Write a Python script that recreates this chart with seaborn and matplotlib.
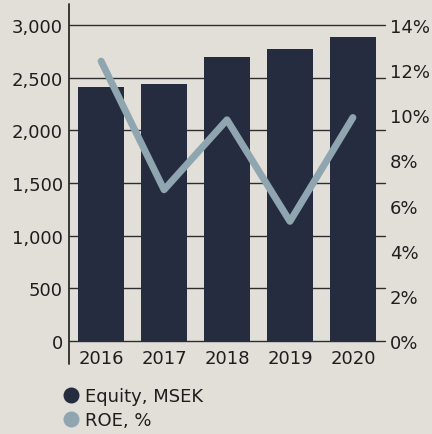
import numpy as np
import pandas as pd
import seaborn as sns
import matplotlib.pyplot as plt
from matplotlib.lines import Line2D

years = ["2016", "2017", "2018", "2019", "2020"]
equity = [2410, 2440, 2700, 2770, 2890]
roe = [12.4, 6.7, 9.8, 5.3, 9.9]
left_ticks = [0, 500, 1000, 1500, 2000, 2500, 3000]
right_ticks = [0, 2, 4, 6, 8, 10, 12, 14]

bg = "#e2dfd8"
bar_col = "#262c3f"
line_col = "#8fa6b1"
txt = "#1e1e1e"

sns.set_theme(style="white", rc={"figure.facecolor": bg, "axes.facecolor": bg})
plt.rcParams["font.family"] = ["DejaVu Sans"]

df = pd.DataFrame({"year": years, "equity": equity, "roe": roe, "pos": np.arange(len(years))})

fig = plt.figure(figsize=(4.32, 4.35), dpi=100)
ax = fig.add_axes([69 / 432, 1 - 342 / 435, 316 / 432, 316 / 435])

sns.barplot(data=df, x="year", y="equity", color=bar_col, saturation=1, width=0.73,
            linewidth=0, ax=ax, zorder=2)
ax.set_ylim(0, 3000)
ax.set_xlim(-0.51, 4.51)
ax.set_yticks(left_ticks)
ax.set_yticklabels([f"{v:,}" for v in left_ticks])
for v in left_ticks:
    ax.axhline(v, color="#2e2e2e", lw=1.0, zorder=1, clip_on=False)
ax.set_xlabel("")
ax.set_ylabel("")
ax.tick_params(axis="y", length=0, pad=4.5, labelsize=13, colors=txt)
ax.tick_params(axis="x", length=0, pad=6, labelsize=13, colors=txt)
for s in ax.spines.values():
    s.set_visible(False)
ax.plot([0, 0], [-0.073, 1.066], transform=ax.transAxes, color="#2b2b2b", lw=1.3, clip_on=False)

ax2 = ax.twinx()
sns.lineplot(data=df, x="pos", y="roe", color=line_col, lw=5, ax=ax2,
             solid_capstyle="round", solid_joinstyle="round", zorder=3)
ax2.set_ylim(0, 14)
ax2.set_yticks(right_ticks)
ax2.set_yticklabels([f"{v}%" for v in right_ticks])
ax2.set_ylabel("")
ax2.tick_params(axis="y", length=0, pad=3.5, labelsize=13, colors=txt)
for s in ax2.spines.values():
    s.set_visible(False)
ax2.set_xlim(-0.51, 4.51)

handles = [
    Line2D([], [], marker="o", ls="", markersize=10.5, color=bar_col, label="Equity, MSEK"),
    Line2D([], [], marker="o", ls="", markersize=10.5, color=line_col, label="ROE, %"),
]
fig.legend(handles=handles, loc="upper left", bbox_to_anchor=(62 / 432, 1 - 388 / 435),
           frameon=False, fontsize=13, handletextpad=0.3, labelspacing=0.35,
           borderaxespad=0, handlelength=1.0, borderpad=0, labelcolor=txt)

fig.savefig("out.png", dpi=100, facecolor=bg)
